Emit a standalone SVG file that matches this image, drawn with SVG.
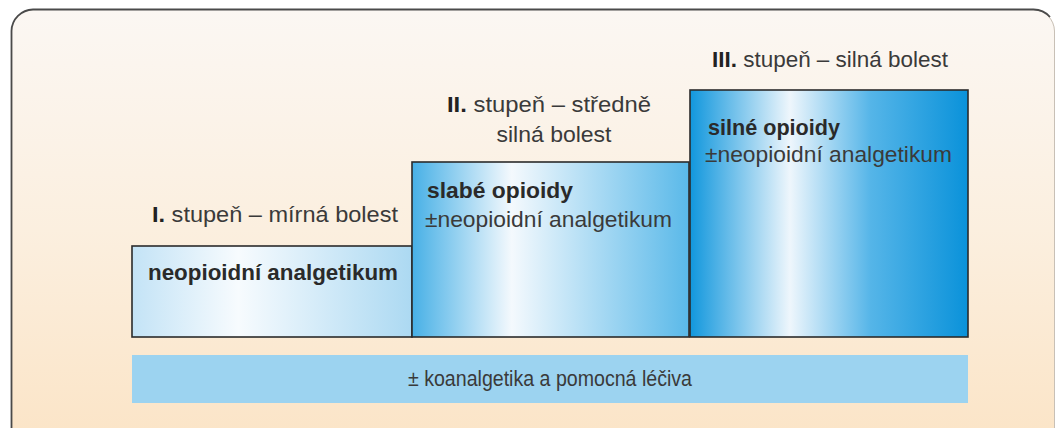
<svg xmlns="http://www.w3.org/2000/svg" width="1059" height="428" viewBox="0 0 1059 428">
<defs>
<linearGradient id="bg" x1="0" y1="0" x2="0" y2="1">
<stop offset="0" stop-color="#fbf7f3"/>
<stop offset="0.5" stop-color="#fbefdf"/>
<stop offset="1" stop-color="#fbe4c6"/>
</linearGradient>
<linearGradient id="g1" x1="0" y1="0" x2="1" y2="0">
<stop offset="0" stop-color="#c3e3f6"/>
<stop offset="0.38" stop-color="#f7fbfe"/>
<stop offset="1" stop-color="#acd9f2"/>
</linearGradient>
<linearGradient id="g2" x1="0" y1="0" x2="1" y2="0">
<stop offset="0" stop-color="#47b0e6"/>
<stop offset="0.36" stop-color="#f4f9fd"/>
<stop offset="1" stop-color="#5ab9e9"/>
</linearGradient>
<linearGradient id="g3" x1="0" y1="0" x2="1" y2="0">
<stop offset="0" stop-color="#1197dd"/>
<stop offset="0.36" stop-color="#eef6fc"/>
<stop offset="0.65" stop-color="#55b5e8"/>
<stop offset="1" stop-color="#0a92da"/>
</linearGradient>
<style>
.box{stroke:#2b2b2b;stroke-width:1.6}
.t{font-family:"Liberation Sans",Arial,sans-serif;font-size:22px;fill:#3a3a3a}
.b{font-family:"Liberation Sans",Arial,sans-serif;font-size:22px;font-weight:bold;fill:#2a2a2a}
</style>
</defs>
<g id="frame">
<rect x="11" y="9" width="1044" height="440" rx="22" fill="url(#bg)"/>
<path d="M1033 9.5 H33 A22 22 0 0 0 11.5 31 V440" fill="none" stroke="#4a4a4a" stroke-width="1.8"/>
<path d="M1033 9.5 A22 22 0 0 1 1054.5 31 V428" fill="none" stroke="#c8c0b6" stroke-width="1"/>
<path d="M1033 9.5 A22 22 0 0 1 1050 17" fill="none" stroke="#4a4a4a" stroke-width="1.8"/>
</g>
<g id="step1">
<text class="t" x="152" y="222" textLength="246" lengthAdjust="spacingAndGlyphs"><tspan font-weight="bold" fill="#222">I.</tspan> stupeň – mírná bolest</text>
<rect class="box" x="132" y="246" width="280" height="91" fill="url(#g1)"/>
<text class="b" x="148" y="280" textLength="250" lengthAdjust="spacingAndGlyphs">neopioidní analgetikum</text>
</g>
<g id="step2">
<text class="t" x="549" y="112" text-anchor="middle" textLength="204" lengthAdjust="spacingAndGlyphs"><tspan font-weight="bold" fill="#222">II.</tspan> stupeň – středně</text>
<text class="t" x="554" y="142" text-anchor="middle" textLength="115" lengthAdjust="spacingAndGlyphs">silná bolest</text>
<rect class="box" x="412" y="162" width="277" height="175" fill="url(#g2)"/>
<text class="b" x="427" y="198" textLength="146" lengthAdjust="spacingAndGlyphs">slabé opioidy</text>
<text class="t" x="425" y="227" textLength="247" lengthAdjust="spacingAndGlyphs">±neopioidní analgetikum</text>
</g>
<g id="step3">
<text class="t" x="712" y="67" textLength="236" lengthAdjust="spacingAndGlyphs"><tspan font-weight="bold" fill="#222">III.</tspan> stupeň – silná bolest</text>
<rect class="box" x="690" y="90" width="278" height="247" fill="url(#g3)"/>
<text class="b" x="708" y="135" textLength="132" lengthAdjust="spacingAndGlyphs">silné opioidy</text>
<text class="t" x="705" y="162" textLength="247" lengthAdjust="spacingAndGlyphs">±neopioidní analgetikum</text>
</g>
<g id="adjuvant">
<rect x="132" y="355" width="836" height="48" fill="#9cd3f0"/>
<text class="t" x="550" y="386" text-anchor="middle" textLength="284" lengthAdjust="spacingAndGlyphs">± koanalgetika a pomocná léčiva</text>
</g>
<g id="connectors"></g>
</svg>
